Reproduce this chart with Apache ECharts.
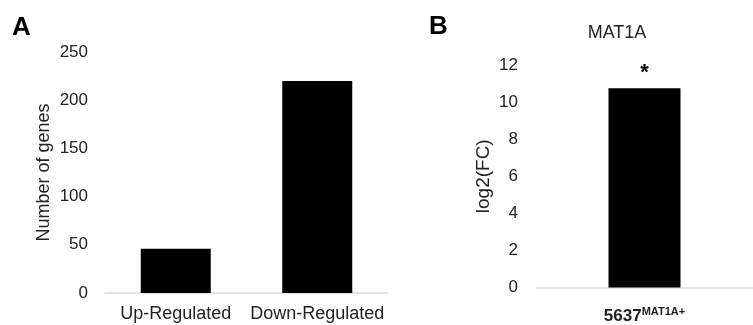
<!DOCTYPE html>
<html>
<head>
<meta charset="utf-8">
<script src="https://cdn.jsdelivr.net/npm/echarts@6/dist/echarts.min.js"></script>
<style>
  html, body { margin: 0; padding: 0; background: #fff; }
  #chart { width: 753px; height: 325px; }
</style>
</head>
<body>
<div id="chart"></div>
<script>
// panel A: number of DE genes
const regCategories = ['Up-Regulated', 'Down-Regulated'];
const geneCounts = [46, 220];
const countTicks = [0, 50, 100, 150, 200, 250];

// panel B: MAT1A fold change
const fcCategories = ['5637'];
const fcValues = [10.75];
const fcTicks = [0, 2, 4, 6, 8, 10, 12];

const FONT = '"Liberation Sans", Arial, sans-serif';
const chart = echarts.init(document.getElementById('chart'));

const option = {
  animation: false,
  textStyle: { fontFamily: FONT, color: '#222' },
  graphic: [
    { type: 'text', left: 12, top: 15, style: { text: 'A', font: 'bold 26px ' + FONT, fill: '#000' } },
    { type: 'text', left: 429, top: 14, style: { text: 'B', font: 'bold 26px ' + FONT, fill: '#000' } },
    { type: 'text', x: 617, y: 33, style: { text: 'MAT1A', font: '18px ' + FONT, fill: '#222', align: 'center', verticalAlign: 'middle' } }
  ],
  grid: [
    { left: 105, top: 52, width: 283, height: 241 },
    { left: 536, top: 65, width: 228, height: 226 }
  ],
  xAxis: [
    {
      gridIndex: 0, type: 'category', data: regCategories,
      axisLine: { lineStyle: { color: '#d9d9d9', width: 1.5 } },
      axisTick: { show: false },
      axisLabel: { fontSize: 18, color: '#222', margin: 12, interval: 0, hideOverlap: false }
    },
    {
      gridIndex: 1, type: 'category', data: fcCategories,
      axisLine: { lineStyle: { color: '#d9d9d9', width: 1.5 } },
      axisTick: { show: false },
      axisLabel: {
        margin: 19, interval: 0,
        formatter: v => '{b|' + v + '}{s|MAT1A+}',
        rich: {
          b: { fontSize: 17, fontWeight: 'bold', color: '#222', fontFamily: FONT },
          s: { fontSize: 11, fontWeight: 'bold', color: '#222', fontFamily: FONT, padding: [0, 0, 9, 0] }
        }
      }
    }
  ],
  yAxis: [
    {
      gridIndex: 0, type: 'value', min: countTicks[0], max: countTicks[countTicks.length - 1], interval: 50,
      axisLine: { show: false }, axisTick: { show: false }, splitLine: { show: false },
      axisLabel: { fontSize: 17, color: '#222', margin: 17 },
      name: 'Number of genes', nameLocation: 'middle', nameRotate: 90, nameGap: 52,
      nameTextStyle: { fontSize: 18, color: '#222' }
    },
    {
      gridIndex: 1, type: 'value', min: fcTicks[0], max: fcTicks[fcTicks.length - 1], interval: 2,
      axisLine: { show: false }, axisTick: { show: false }, splitLine: { show: false },
      axisLabel: { fontSize: 17, color: '#222', margin: 18 },
      name: 'log2(FC)', nameLocation: 'middle', nameRotate: 90, nameGap: 43,
      nameTextStyle: { fontSize: 19, color: '#222' }
    }
  ],
  series: [
    {
      type: 'bar', xAxisIndex: 0, yAxisIndex: 0, data: geneCounts,
      barWidth: 70, itemStyle: { color: '#000' }
    },
    {
      type: 'bar', xAxisIndex: 1, yAxisIndex: 1, data: fcValues,
      barWidth: 72, itemStyle: { color: '#000' },
      label: { show: true, position: 'top', distance: 4, formatter: '*', fontSize: 22, fontWeight: 'bold', color: '#000' }
    }
  ]
};

chart.setOption(option);
</script>
</body>
</html>
